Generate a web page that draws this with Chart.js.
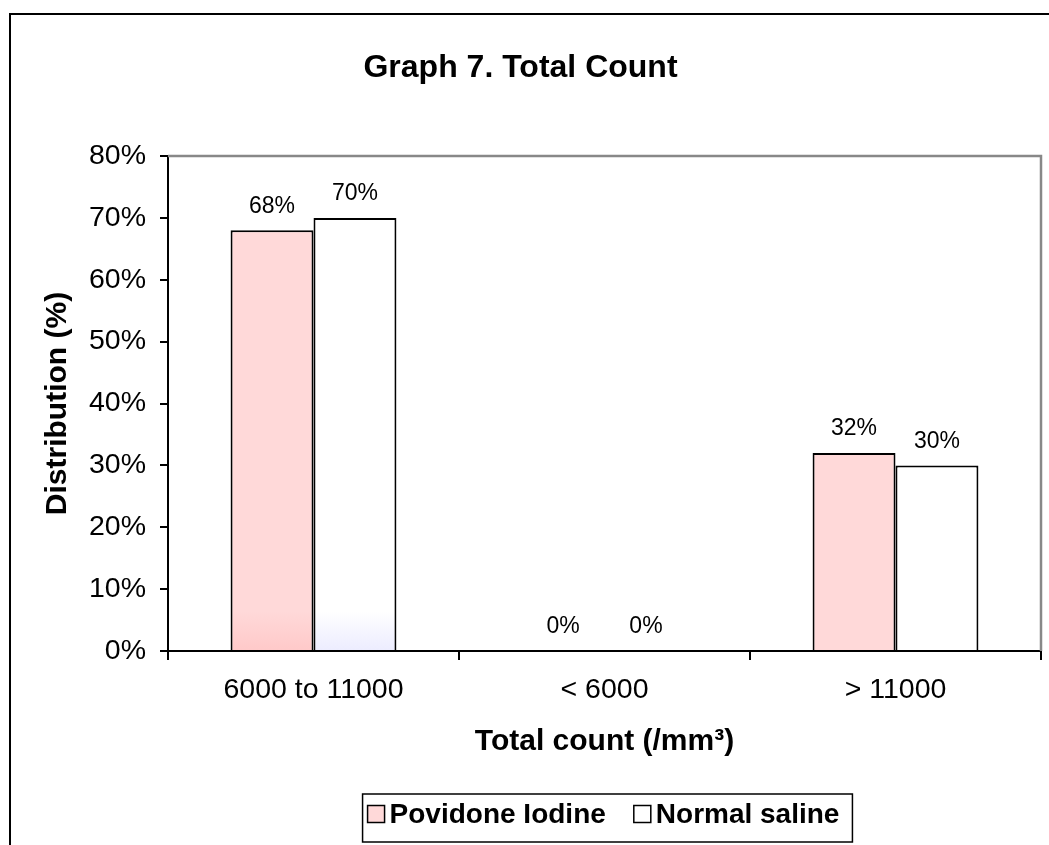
<!DOCTYPE html>
<html>
<head>
<meta charset="utf-8">
<script src="https://cdn.jsdelivr.net/npm/chart.js@4.4.1/dist/chart.umd.min.js"></script>
<style>
  html, body { margin: 0; padding: 0; background: #fff; }
  canvas { display: block; }
</style>
</head>
<body>
<canvas id="chart" width="1049" height="845"></canvas>
<script>
// Chart content
const categories = ['6000 to 11000', '< 6000', '> 11000'];
const seriesNames = ['Povidone Iodine', 'Normal saline'];
const povidoneValues = [68, 0, 32];
const salineValues = [70, 0, 30];
const yTickValues = [0, 10, 20, 30, 40, 50, 60, 70, 80];
const chartTitle = 'Graph 7. Total Count';
const yAxisTitle = 'Distribution (%)';
const xAxisTitle = 'Total count (/mm\u00B3)';

const FONT = "'Liberation Sans', Arial, Helvetica, sans-serif";
const PINK = '#FFD9D9';
const PINK_DEEP = '#FFC9C9';
const LAVENDER = '#ECECFF';

// Soft fade at the foot of the first group of bars
function fadeFill(top, bottom) {
  return (ctx) => {
    const area = ctx.chart.chartArea;
    if (ctx.dataIndex !== 0 || !area) return top;
    const g = ctx.chart.ctx.createLinearGradient(0, area.bottom - 40, 0, area.bottom);
    g.addColorStop(0, top);
    g.addColorStop(1, bottom);
    return g;
  };
}

// Outer frame, white page and grey plot border
const framePlugin = {
  id: 'frame',
  beforeDraw(chart) {
    const c = chart.ctx;
    c.save();
    c.fillStyle = '#fff';
    c.fillRect(0, 0, chart.width, chart.height);
    c.strokeStyle = '#000';
    c.lineWidth = 2;
    c.strokeRect(10, 14, chart.width + 40, chart.height + 40);
    c.restore();
  },
  beforeDatasetsDraw(chart) {
    const { left, top, right, bottom } = chart.chartArea;
    const c = chart.ctx;
    c.save();
    c.strokeStyle = '#888';
    c.lineWidth = 2.5;
    c.beginPath();
    c.moveTo(left, top);
    c.lineTo(right, top);
    c.lineTo(right, bottom);
    c.stroke();
    c.restore();
  }
};

// Percentage labels above each bar
const valueLabelPlugin = {
  id: 'valueLabels',
  afterDatasetsDraw(chart) {
    const c = chart.ctx;
    c.save();
    c.font = `23px ${FONT}`;
    c.fillStyle = '#000';
    c.textAlign = 'center';
    c.textBaseline = 'middle';
    chart.data.datasets.forEach((ds, i) => {
      chart.getDatasetMeta(i).data.forEach((bar, j) => {
        c.fillText(ds.data[j] + '%', bar.x, bar.y - 24);
      });
    });
    c.restore();
  }
};

// Boxed legend under the axis title
const legendBoxPlugin = {
  id: 'legendBox',
  afterDraw(chart) {
    const c = chart.ctx;
    const area = chart.chartArea;
    const box = 17, gapText = 5, itemGap = 28, padL = 5, padR = 13;
    const top = chart.height - 51, bottom = chart.height - 3;
    const midY = top + 20;
    c.save();
    c.font = `bold 28px ${FONT}`;
    const widths = chart.data.datasets.map(ds => c.measureText(ds.label).width);
    const total = padL + widths.reduce((s, w) => s + box + gapText + w, 0) + itemGap * (widths.length - 1) + padR;
    const cx = (area.left + area.right) / 2 + 3;
    const left = cx - total / 2;
    c.fillStyle = '#fff';
    c.fillRect(left, top, total, bottom - top);
    c.strokeStyle = '#000';
    c.lineWidth = 1.5;
    c.strokeRect(left, top, total, bottom - top);
    let x = left + padL;
    c.textAlign = 'left';
    c.textBaseline = 'middle';
    chart.data.datasets.forEach((ds, i) => {
      c.fillStyle = ds.legendColor;
      c.fillRect(x, midY - box / 2, box, box);
      c.strokeStyle = '#000';
      c.lineWidth = 1.5;
      c.strokeRect(x, midY - box / 2, box, box);
      x += box + gapText;
      c.fillStyle = '#000';
      c.fillText(ds.label, x, midY + 1);
      x += widths[i] + itemGap;
    });
    c.restore();
  }
};

new Chart(document.getElementById('chart'), {
  type: 'bar',
  data: {
    labels: categories,
    datasets: [
      {
        label: seriesNames[0],
        data: povidoneValues,
        backgroundColor: fadeFill(PINK, PINK_DEEP),
        legendColor: PINK,
        borderColor: '#000',
        borderWidth: 2
      },
      {
        label: seriesNames[1],
        data: salineValues,
        backgroundColor: fadeFill('#FFFFFF', LAVENDER),
        legendColor: '#FFFFFF',
        borderColor: '#000',
        borderWidth: 2
      }
    ]
  },
  options: {
    responsive: false,
    animation: false,
    devicePixelRatio: 1,
    events: [],
    layout: { padding: { left: 0, right: 8, top: 0, bottom: 85 } },
    datasets: {
      bar: { barPercentage: 1, categoryPercentage: 0.57 }
    },
    plugins: {
      legend: { display: false },
      tooltip: { enabled: false },
      title: {
        display: true,
        text: chartTitle,
        color: '#000',
        font: { family: FONT, size: 32, weight: 'bold' },
        padding: { top: 48.8, bottom: 68.8 }
      }
    },
    scales: {
      x: {
        offset: true,
        grid: {
          offset: true,
          drawOnChartArea: false,
          drawTicks: true,
          tickLength: 9,
          color: '#000',
          tickColor: '#000',
          lineWidth: 2
        },
        border: { display: true, color: '#000', width: 2 },
        ticks: {
          color: '#000',
          padding: 13,
          maxRotation: 0,
          font: { family: FONT, size: 28.5 }
        },
        title: {
          display: true,
          text: xAxisTitle,
          color: '#000',
          font: { family: FONT, size: 30, weight: 'bold' },
          padding: { top: 0, bottom: 0 }
        },
        afterFit(scale) { scale.height = 109; }
      },
      y: {
        min: 0,
        max: 80,
        grid: {
          drawOnChartArea: false,
          drawTicks: true,
          tickLength: 8,
          color: '#000',
          tickColor: '#000',
          lineWidth: 2
        },
        border: { display: true, color: '#000', width: 2 },
        afterBuildTicks(scale) {
          scale.ticks = yTickValues.map(v => ({ value: v }));
        },
        ticks: {
          color: '#000',
          padding: 14,
          font: { family: FONT, size: 28.5 },
          callback: (v) => v + '%'
        },
        title: {
          display: true,
          text: yAxisTitle,
          color: '#000',
          font: { family: FONT, size: 30, weight: 'bold' },
          padding: { top: 40, bottom: 0 }
        },
        afterFit(scale) { scale.width = 168; }
      }
    }
  },
  plugins: [framePlugin, valueLabelPlugin, legendBoxPlugin]
});
</script>
</body>
</html>
